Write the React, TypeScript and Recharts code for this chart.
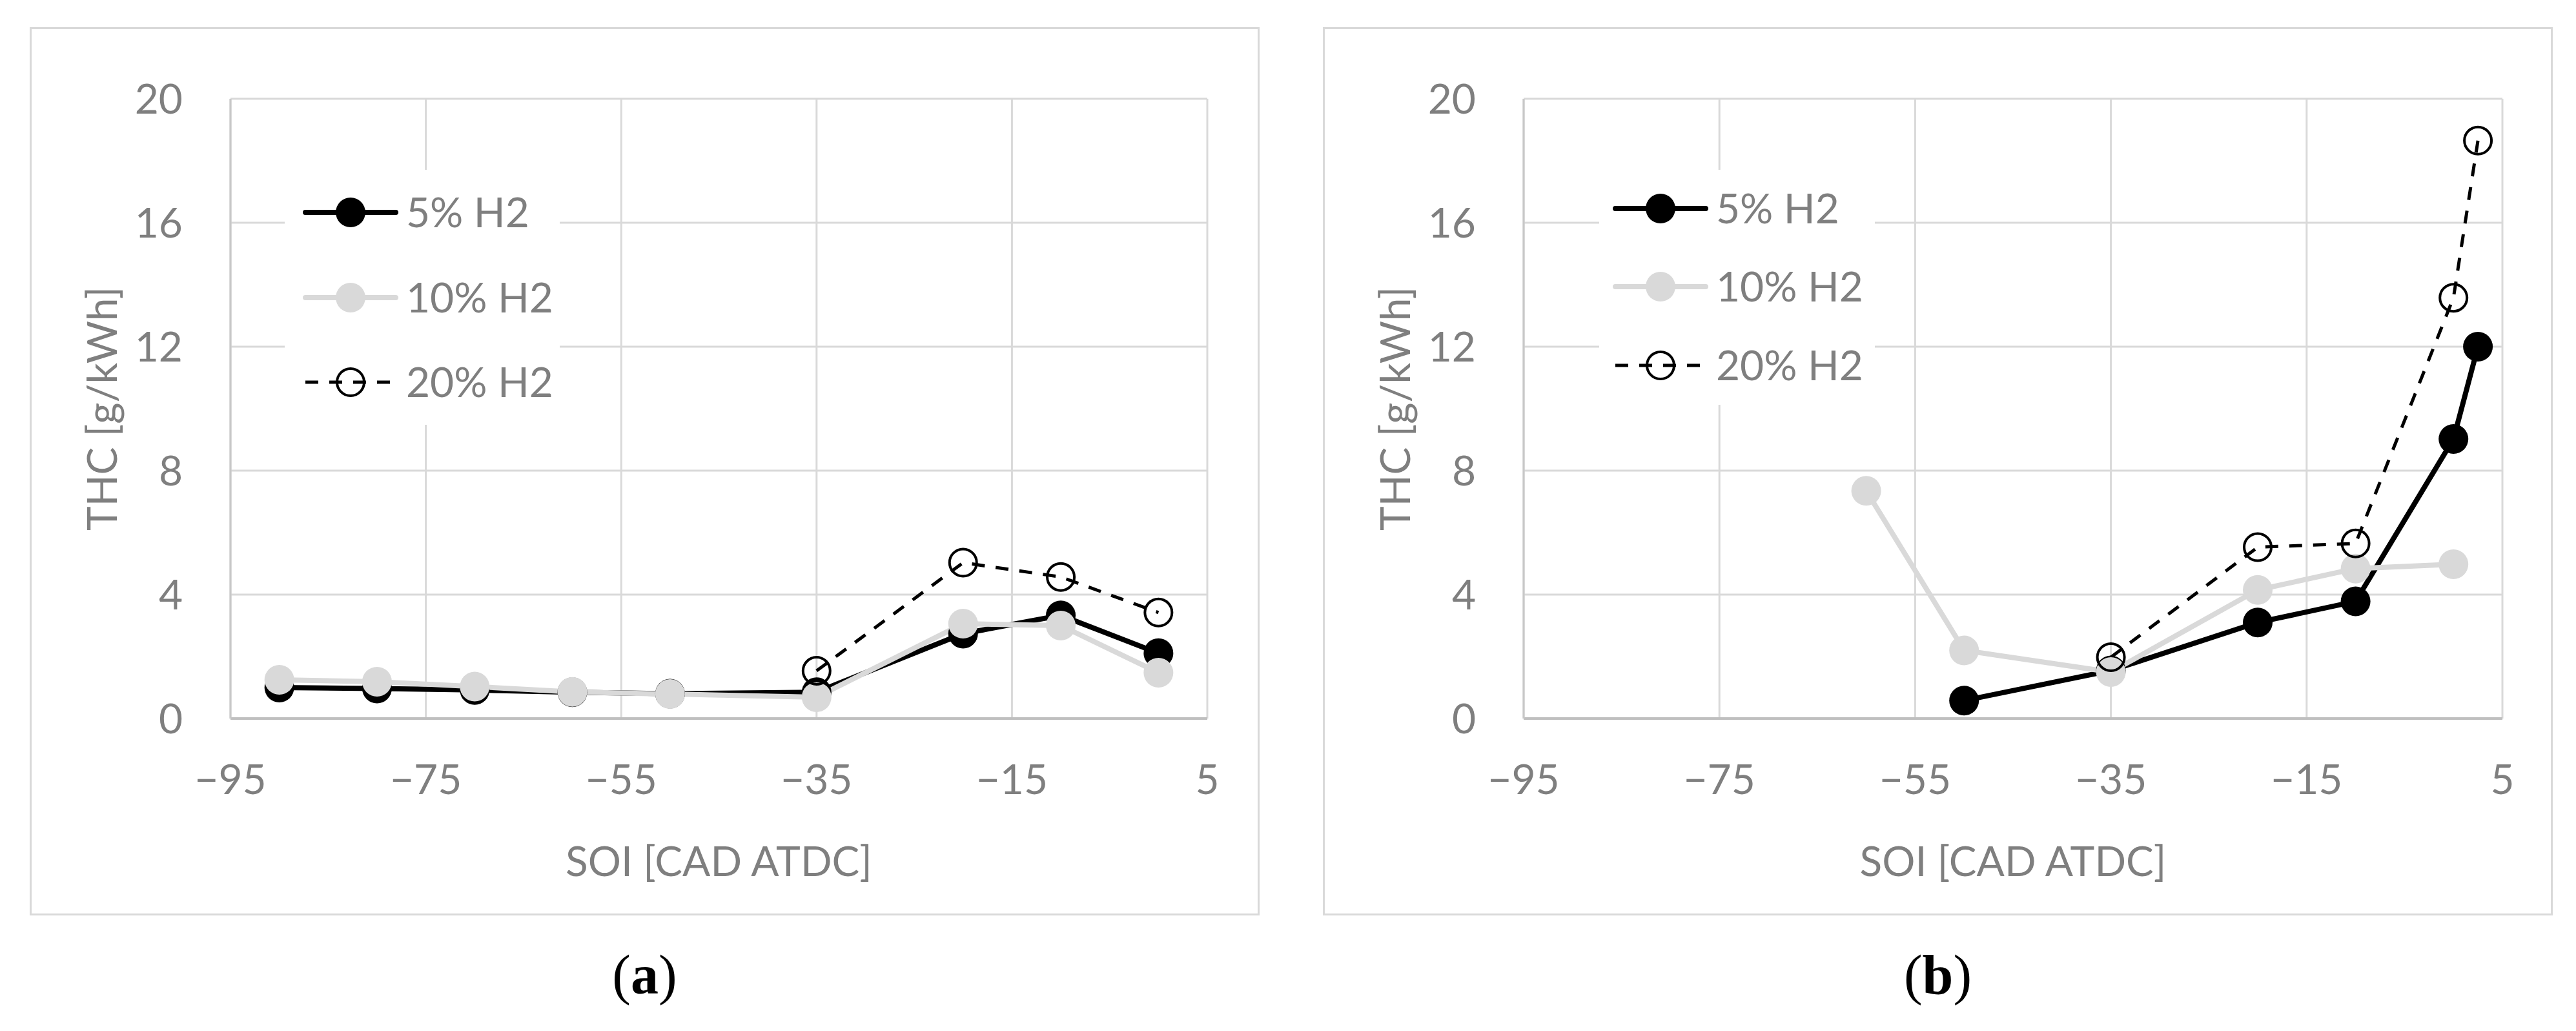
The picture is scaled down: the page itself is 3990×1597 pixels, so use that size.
import React from "react";
import { CartesianGrid, Legend, Line, LineChart, XAxis, YAxis } from "recharts";

// panel (a)
const soiA = [-90, -80, -70, -60, -50, -35, -20, -10, 0];
const thcA5 = [1.0, 0.97, 0.92, 0.85, 0.8, 0.85, 2.74, 3.33, 2.11];
const thcA10 = [1.25, 1.19, 1.03, 0.86, 0.79, 0.69, 3.06, 3.0, 1.48];
const thcA20 = [null, null, null, null, null, 1.54, 5.03, 4.57, 3.42];

// panel (b)
const soiB = [-60, -50, -35, -20, -10, 0, 2.5];
const thcB5 = [null, 0.58, 1.55, 3.1, 3.78, 9.02, 12.0];
const thcB10 = [7.35, 2.2, 1.5, 4.15, 4.84, 4.98, null];
const thcB20 = [null, null, 1.98, 5.53, 5.65, 13.58, 18.65];

const xTicks = [-95, -75, -55, -35, -15, 5];
const yTicks = [0, 4, 8, 12, 16, 20];

const FONT = 'Lato, "Open Sans", sans-serif';
const GREY_TEXT = "#7f7f7f";
const GRID = "#d9d9d9";

const SERIES = [
  { key: "h5", name: "5% H2", color: "#000000", width: 8, dash: undefined, open: false },
  { key: "h10", name: "10% H2", color: "#d9d9d9", width: 8, dash: undefined, open: false },
  { key: "h20", name: "20% H2", color: "#000000", width: 5, dash: "20 17", open: true },
];

const toRows = (soi: number[], a: (number | null)[], b: (number | null)[], c: (number | null)[]) =>
  soi.map((x, i) => ({ soi: x, h5: a[i], h10: b[i], h20: c[i] }));

const rowsA = toRows(soiA, thcA5, thcA10, thcA20);
const rowsB = toRows(soiB, thcB5, thcB10, thcB20);

type LegendLayout = {
  left: number;
  top: number;
  width: number;
  height: number;
  rows: number[];
  lineX: [number, number];
  markerX: number;
  textX: number;
};

const legendA: LegendLayout = {
  left: 395,
  top: 221,
  width: 426,
  height: 395,
  rows: [66, 198, 329],
  lineX: [32, 172],
  markerX: 102,
  textX: 188,
};

const legendB: LegendLayout = {
  left: 428,
  top: 221,
  width: 427,
  height: 364,
  rows: [60, 181, 303],
  lineX: [25, 165],
  markerX: 95,
  textX: 181,
};

const minus = (v: number) => String(v).replace("-", "\u2212");

const LegendBox = ({ layout }: { layout: LegendLayout }) => (
  <svg width={layout.width} height={layout.height} style={{ display: "block", background: "#fff" }}>
    {SERIES.map((s, i) => {
      const y = layout.rows[i];
      return (
        <g key={s.key}>
          <line
            x1={layout.lineX[0]}
            x2={layout.lineX[1]}
            y1={y}
            y2={y}
            stroke={s.color}
            strokeWidth={s.width}
            strokeDasharray={s.dash}
            strokeLinecap={s.dash ? "butt" : "round"}
          />
          {s.open ? (
            <circle cx={layout.markerX} cy={y} r={21} fill="none" stroke={s.color} strokeWidth={4} />
          ) : (
            <circle cx={layout.markerX} cy={y} r={23} fill={s.color} />
          )}
          <text x={layout.textX} y={y + 23} fill={GREY_TEXT} fontSize={64} fontFamily={FONT}>
            {s.name}
          </text>
        </g>
      );
    })}
  </svg>
);

type PanelProps = {
  left: number;
  rightMargin: number;
  rows: ReturnType<typeof toRows>;
  legend: LegendLayout;
  caption: string;
};

const W = 1905;
const H = 1376;
const TOP = 42;

const Panel = ({ left, rightMargin, rows, legend, caption }: PanelProps) => (
  <>
    <div
      style={{
        position: "absolute",
        left,
        top: TOP,
        width: W,
        height: H,
        boxSizing: "border-box",
        border: `3px solid ${GRID}`,
      }}
    />
    <div style={{ position: "absolute", left, top: TOP }}>
      <LineChart width={W} height={H} data={rows} margin={{ top: 111, right: rightMargin, bottom: 0, left: 0 }}>
        <CartesianGrid stroke={GRID} strokeWidth={3} />
        <XAxis
          type="number"
          dataKey="soi"
          domain={[-95, 5]}
          ticks={xTicks}
          interval={0}
          height={305}
          tickSize={0}
          tickMargin={72}
          tickFormatter={minus}
          axisLine={{ stroke: "#bfbfbf", strokeWidth: 4 }}
          tickLine={false}
          tick={{ fill: GREY_TEXT, fontSize: 64, fontFamily: FONT }}
          label={{
            value: "SOI [CAD ATDC]",
            position: "insideBottom",
            offset: 61,
            fill: GREY_TEXT,
            fontSize: 64,
            fontFamily: FONT,
          }}
        />
        <YAxis
          type="number"
          domain={[0, 20]}
          ticks={yTicks}
          interval={0}
          width={311}
          tickSize={0}
          tickMargin={74}
          axisLine={{ stroke: "#c8c8c8", strokeWidth: 3 }}
          tickLine={false}
          tick={{ fill: GREY_TEXT, fontSize: 64, fontFamily: FONT }}
          label={{
            value: "THC [g/kWh]",
            angle: -90,
            position: "insideLeft",
            offset: 112,
            fill: GREY_TEXT,
            fontSize: 64,
            fontFamily: FONT,
            style: { textAnchor: "middle" },
          }}
        />
        <Legend
          layout="horizontal"
          verticalAlign="middle"
          align="center"
          wrapperStyle={{
            left: legend.left,
            top: legend.top,
            width: legend.width,
            height: legend.height,
          }}
          content={() => <LegendBox layout={legend} />}
        />
        {SERIES.map((s) => (
          <Line
            key={s.key}
            type="linear"
            dataKey={s.key}
            name={s.name}
            stroke={s.color}
            strokeWidth={s.width}
            strokeDasharray={s.dash}
            dot={
              s.open
                ? { r: 21, fill: "none", stroke: s.color, strokeWidth: 4, strokeDasharray: "none" }
                : { r: 23, fill: s.color, stroke: "none", strokeWidth: 0 }
            }
            activeDot={false}
            isAnimationActive={false}
          />
        ))}
      </LineChart>
    </div>
    <div
      style={{
        position: "absolute",
        left,
        top: 1467,
        width: W,
        textAlign: "center",
        fontFamily: '"Liberation Serif", "Times New Roman", serif',
        fontSize: 86,
        lineHeight: "86px",
        color: "#000",
      }}
    >
      (<b>{caption}</b>)
    </div>
  </>
);

export default function App() {
  return (
    <div style={{ position: "absolute", left: 0, top: 0, width: 3990, height: 1597, background: "#fff" }}>
      <Panel left={46} rightMargin={81} rows={rowsA} legend={legendA} caption="a" />
      <Panel left={2049} rightMargin={78} rows={rowsB} legend={legendB} caption="b" />
    </div>
  );
}
